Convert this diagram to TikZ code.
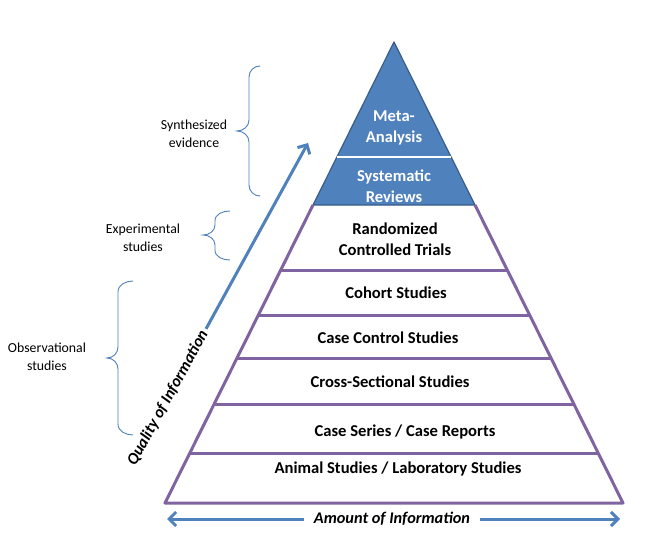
\documentclass[tikz,border=0pt]{standalone}
\usepackage{fontspec}
\setmainfont{Carlito}
\usetikzlibrary{arrows.meta,calc}
\definecolor{ablue}{HTML}{4F81BD}
\definecolor{dblue}{HTML}{385D8A}
\definecolor{apurple}{HTML}{8064A2}
\begin{document}
\begin{tikzpicture}[x=1pt,y=-1pt,
  layer/.style={font=\fontsize{16.6}{21}\selectfont\bfseries, align=center, text=black, inner sep=0pt},
  toplayer/.style={layer, text=white},
  side/.style={font=\fontsize{13.8}{18}\selectfont, align=center, text=black},
  sepline/.style={draw=apurple, line width=3pt},
  brc/.style={draw=ablue, line width=0.9pt},
  axislbl/.style={font=\fontsize{16.3}{19}\selectfont\bfseries\itshape, inner xsep=10pt},
  axis/.style={draw=ablue, line width=3pt, -{Straight Barb[length=7pt,width=14pt]}}
]
\useasboundingbox (0,0) rectangle (654,556);
\fill[white] (0,0) rectangle (654,556);
% pyramid frame
\coordinate (A) at (394,42);
\coordinate (BL) at (165,503);
\coordinate (BR) at (623,503);
\foreach \n/\t in {1/0.2495,2/0.3536,3/0.4946,4/0.5922,5/0.6876,6/0.7874,7/0.8937}{
  \coordinate (l\n) at ($(A)!\t!(BL)$);
  \coordinate (r\n) at ($(A)!\t!(BR)$);
}
% blue top
\filldraw[fill=ablue, draw=dblue, line width=1.2pt, line join=round] (A) -- (l2) -- (r2) -- cycle;
\draw[white, line width=2.5pt] (l1) -- (r1);
% purple body
\draw[sepline, line join=round] (l2) -- (BL) -- (BR) -- (r2);
\foreach \n in {3,...,7}{ \draw[sepline] (l\n) -- (r\n); }
% layer texts
\node[toplayer] (meta) at (394,128) {Meta-\\Analysis};
\node[toplayer] (sys) at (394,186) {Systematic\\Reviews};
\node[layer] (rct) at (395,239) {Randomized\\Controlled Trials};
\node[layer] (coh) at (396,293) {Cohort Studies};
\node[layer] (cc) at (388,338) {Case Control Studies};
\node[layer] (cs) at (390,382) {Cross-Sectional Studies};
\node[layer] (ser) at (405,432) {Case Series / Case Reports};
\node[layer] (ani) at (398,469) {Animal Studies / Laboratory Studies};
% side labels
\node[side] (syn) at (194,134) {Synthesized\\evidence};
\node[side] (exp) at (143,238) {Experimental\\studies};
\node[side] (obs) at (47,357) {Observational\\studies};
% braces
\draw[brc] (260,66) to[out=180,in=90] (249,77) -- (249,120) to[out=270,in=0] (237,131)
  to[out=0,in=90] (249,142) -- (249,185) to[out=270,in=180] (260,196);
\draw[brc] (230,211) to[out=180,in=90] (215,221) -- (215,225) to[out=270,in=0] (203,235)
  to[out=0,in=90] (215,245) -- (215,250) to[out=270,in=180] (230,260);
\draw[brc] (133,281) to[out=180,in=90] (118,292) -- (118,347) to[out=270,in=0] (107,358)
  to[out=0,in=90] (118,369) -- (118,424) to[out=270,in=180] (133,435);
% quality arrow
\node[axislbl, inner xsep=3pt, rotate=61.2] (q) at (168,398) {Quality of Information};
\coordinate (qt) at (308,143);
\draw[axis] (q.east) -- (qt);
% amount arrow
\node[axislbl] (m) at (392,519) {Amount of Information};
\coordinate (mlt) at (167,519);
\coordinate (mrt) at (620,519);
\draw[axis] (m.west) -- (mlt);
\draw[axis] (m.east) -- (mrt);
\end{tikzpicture}
\end{document}
